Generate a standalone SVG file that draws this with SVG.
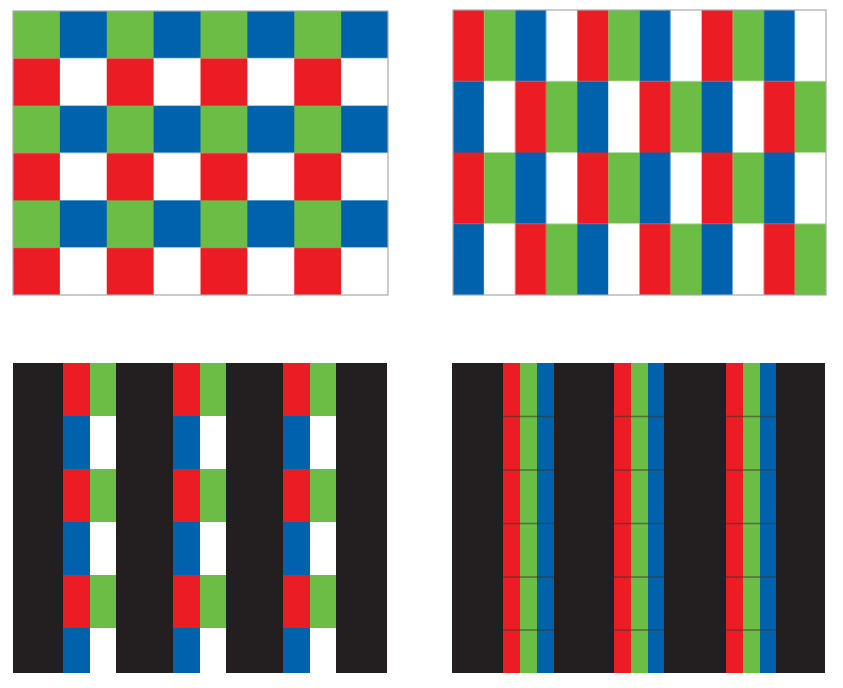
<svg xmlns="http://www.w3.org/2000/svg" width="843" height="688" viewBox="0 0 843 688">
<defs>
<style>
.g{fill:#6cbd45}.b{fill:#0061ad}.r{fill:#ec1c24}.w{fill:#ffffff}.k{fill:#231f20}
.frame{fill:none;stroke:#a7a9ac;stroke-width:1.2}
.ln{stroke:#3a3a2a;stroke-width:1.3;opacity:0.6}
</style>
<pattern id="p1" x="13" y="11" width="93.75" height="94.67" patternUnits="userSpaceOnUse">
<rect class="g" x="0" y="0" width="46.9" height="47.35"/>
<rect class="b" x="46.87" y="0" width="46.9" height="47.35"/>
<rect class="r" x="0" y="47.33" width="46.9" height="47.35"/>
<rect class="w" x="46.87" y="47.33" width="46.9" height="47.35"/>
</pattern>
<pattern id="p2" x="453" y="10" width="124.33" height="142.5" patternUnits="userSpaceOnUse">
<rect class="r" x="0" y="0" width="31.1" height="71.3"/>
<rect class="g" x="31.08" y="0" width="31.1" height="71.3"/>
<rect class="b" x="62.17" y="0" width="31.1" height="71.3"/>
<rect class="w" x="93.25" y="0" width="31.1" height="71.3"/>
<rect class="b" x="0" y="71.25" width="31.1" height="71.3"/>
<rect class="w" x="31.08" y="71.25" width="31.1" height="71.3"/>
<rect class="r" x="62.17" y="71.25" width="31.1" height="71.3"/>
<rect class="g" x="93.25" y="71.25" width="31.1" height="71.3"/>
</pattern>
<pattern id="p3" x="0" y="363" width="53" height="106" patternUnits="userSpaceOnUse">
<rect class="r" x="0" y="0" width="27" height="53"/>
<rect class="g" x="27" y="0" width="27" height="53"/>
<rect class="b" x="0" y="53" width="27" height="53"/>
<rect class="w" x="27" y="53" width="27" height="53"/>
</pattern>
</defs>

<g id="panel-top-left">
<rect x="13" y="11" width="375" height="284" fill="url(#p1)"/>
<rect class="frame" x="13" y="11" width="375" height="284"/>
</g>

<g id="panel-top-right">
<rect x="453" y="10" width="373" height="285" fill="url(#p2)"/>
<rect class="frame" x="453" y="10" width="373" height="285"/>
</g>

<g id="panel-bottom-left">
<rect class="k" x="13" y="363" width="374" height="310"/>
<g transform="translate(63,0)"><rect x="0" y="363" width="53" height="310" fill="url(#p3)"/></g>
<g transform="translate(173,0)"><rect x="0" y="363" width="53" height="310" fill="url(#p3)"/></g>
<g transform="translate(283,0)"><rect x="0" y="363" width="53" height="310" fill="url(#p3)"/></g>
</g>

<g id="panel-bottom-right">
<rect class="k" x="452" y="363" width="373" height="310"/>
<rect class="r" x="503" y="363" width="17" height="310"/>
<rect class="g" x="520" y="363" width="17" height="310"/>
<rect class="b" x="537" y="363" width="17" height="310"/>
<rect class="r" x="614" y="363" width="17" height="310"/>
<rect class="g" x="631" y="363" width="17" height="310"/>
<rect class="b" x="648" y="363" width="16" height="310"/>
<rect class="r" x="726" y="363" width="17" height="310"/>
<rect class="g" x="743" y="363" width="17" height="310"/>
<rect class="b" x="760" y="363" width="16" height="310"/>
<g class="ln">
<line x1="503" y1="416.5" x2="554" y2="416.5"/><line x1="614" y1="416.5" x2="664" y2="416.5"/><line x1="726" y1="416.5" x2="776" y2="416.5"/>
<line x1="503" y1="470" x2="554" y2="470"/><line x1="614" y1="470" x2="664" y2="470"/><line x1="726" y1="470" x2="776" y2="470"/>
<line x1="503" y1="523.5" x2="554" y2="523.5"/><line x1="614" y1="523.5" x2="664" y2="523.5"/><line x1="726" y1="523.5" x2="776" y2="523.5"/>
<line x1="503" y1="577" x2="554" y2="577"/><line x1="614" y1="577" x2="664" y2="577"/><line x1="726" y1="577" x2="776" y2="577"/>
<line x1="503" y1="630" x2="554" y2="630"/><line x1="614" y1="630" x2="664" y2="630"/><line x1="726" y1="630" x2="776" y2="630"/>
</g>
</g>
</svg>
